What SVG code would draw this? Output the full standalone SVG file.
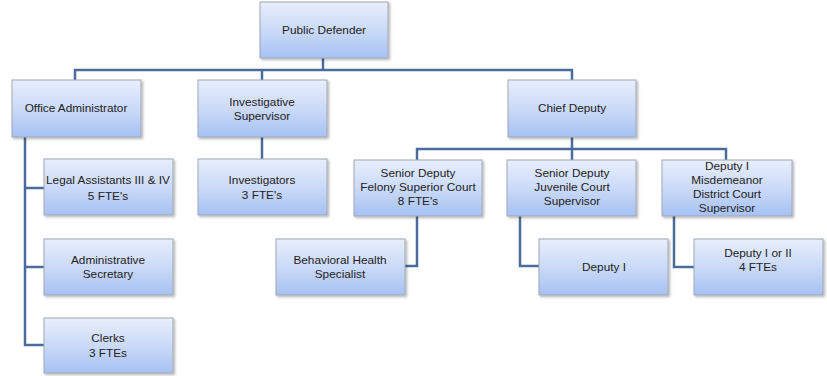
<svg xmlns="http://www.w3.org/2000/svg" width="827" height="376" viewBox="0 0 827 376">
<style>
.box{fill:url(#g);stroke:#a0a8b4;stroke-width:1;filter:url(#sh)}
.t{font-family:"Liberation Sans",Arial,sans-serif;font-size:11.8px;fill:#222;text-anchor:middle}
.c{fill:none;stroke:#4a6c9b;stroke-width:2.5}
</style>
<defs>
<linearGradient id="g" x1="0" y1="0" x2="0" y2="1">
<stop offset="0" stop-color="#e8eefb"/>
<stop offset="0.5" stop-color="#cbdaf8"/>
<stop offset="1" stop-color="#a6c1f3"/>
</linearGradient>
<filter id="sh" x="-10%" y="-10%" width="130%" height="130%">
<feDropShadow dx="1.5" dy="1.5" stdDeviation="1" flood-color="#000" flood-opacity="0.3"/>
</filter>
</defs>
<rect width="827" height="376" fill="#fff"/>
<g id="connectors">
<path class="c" d="M323 58V70M75 80V70H572V80M262 70V80"/>
<path class="c" d="M262 137V159"/>
<path class="c" d="M25 137V345H44M25 188H44M25 267H44"/>
<path class="c" d="M572 137V149M417 160V149H726V160M572 149V160"/>
<path class="c" d="M417 216V266H405"/>
<path class="c" d="M520 216V266H539"/>
<path class="c" d="M674 216V267H694"/>
</g>
<g id="n-public-defender"><rect class="box" x="260" y="2" width="128" height="56"/><text class="t" x="324" y="34">Public Defender</text></g>
<g id="n-office-admin"><rect class="box" x="12" y="80" width="129" height="57"/><text class="t" x="76" y="112">Office Administrator</text></g>
<g id="n-invest-sup"><rect class="box" x="198" y="80" width="129" height="57"/><text class="t" x="262" y="106">Investigative</text><text class="t" x="262" y="119.5">Supervisor</text></g>
<g id="n-chief-deputy"><rect class="box" x="508" y="80" width="128" height="57"/><text class="t" x="572" y="112">Chief Deputy</text></g>
<g id="n-legal"><rect class="box" x="44" y="159" width="129" height="56"/><text class="t" x="108" y="184">Legal Assistants III &amp; IV</text><text class="t" x="108" y="200">5 FTE's</text></g>
<g id="n-admin-sec"><rect class="box" x="44" y="239" width="129" height="56"/><text class="t" x="108" y="264">Administrative</text><text class="t" x="108" y="277.5">Secretary</text></g>
<g id="n-clerks"><rect class="box" x="44" y="318" width="129" height="55"/><text class="t" x="108" y="342">Clerks</text><text class="t" x="108" y="357">3 FTEs</text></g>
<g id="n-investigators"><rect class="box" x="198" y="159" width="129" height="56"/><text class="t" x="262" y="184">Investigators</text><text class="t" x="262" y="199">3 FTE's</text></g>
<g id="n-felony"><rect class="box" x="354" y="160" width="128" height="56"/><text class="t" x="418" y="177">Senior Deputy</text><text class="t" x="418" y="191">Felony Superior Court</text><text class="t" x="418" y="205">8 FTE's</text></g>
<g id="n-juvenile"><rect class="box" x="507" y="160" width="129" height="56"/><text class="t" x="572" y="177">Senior Deputy</text><text class="t" x="572" y="191">Juvenile Court</text><text class="t" x="572" y="205">Supervisor</text></g>
<g id="n-misdemeanor"><rect class="box" x="662" y="160" width="130" height="56"/><text class="t" x="727" y="170">Deputy I</text><text class="t" x="727" y="184">Misdemeanor</text><text class="t" x="727" y="198">District Court</text><text class="t" x="727" y="212">Supervisor</text></g>
<g id="n-behavioral"><rect class="box" x="276" y="239" width="129" height="56"/><text class="t" x="340" y="264">Behavioral Health</text><text class="t" x="340" y="277.5">Specialist</text></g>
<g id="n-deputy1"><rect class="box" x="539" y="239" width="129" height="56"/><text class="t" x="604" y="271">Deputy I</text></g>
<g id="n-deputy12"><rect class="box" x="694" y="239" width="129" height="56"/><text class="t" x="758" y="257">Deputy I or II</text><text class="t" x="758" y="271">4 FTEs</text></g>
</svg>
